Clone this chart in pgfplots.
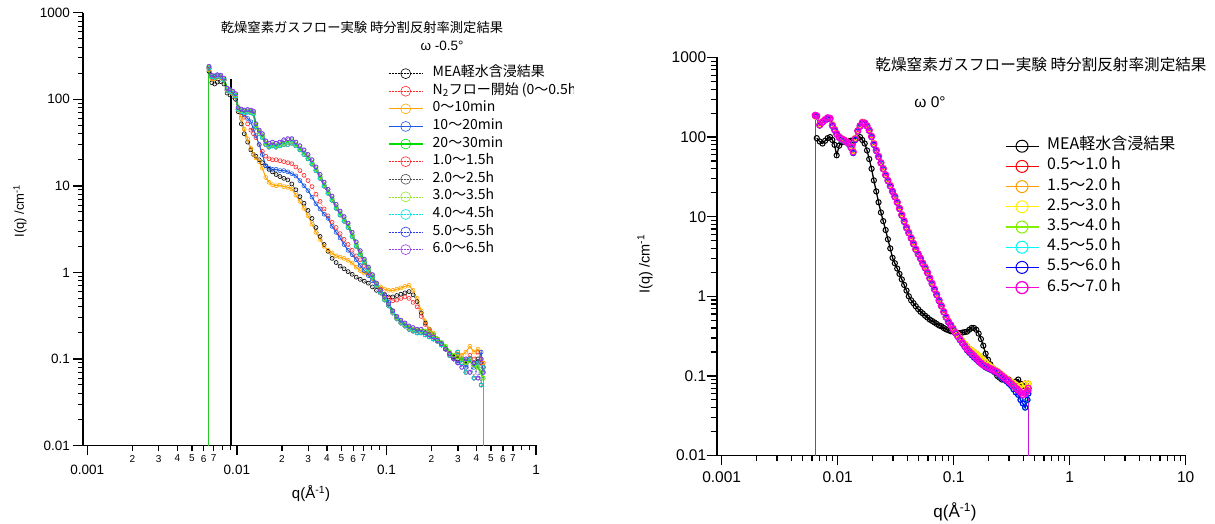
\documentclass[border=0pt]{standalone}
\usepackage{fontspec}
\setmainfont{Liberation Sans}
\newfontfamily\jp{Noto Sans CJK JP}
\usepackage{pgfplots}
\usepackage{pgfplotstable}
\pgfplotsset{compat=1.18}

\definecolor{cRed}{RGB}{255,40,40}
\definecolor{cOrange}{RGB}{255,165,0}
\definecolor{cBlueA}{RGB}{30,90,230}
\definecolor{cGreen}{RGB}{0,220,0}
\definecolor{cYG}{RGB}{150,230,40}
\definecolor{cCyan}{RGB}{0,230,230}
\definecolor{cBlueB}{RGB}{40,60,230}
\definecolor{cPurple}{RGB}{150,60,230}
\definecolor{rRed}{RGB}{255,0,0}
\definecolor{rOrange}{RGB}{255,160,0}
\definecolor{rYellow}{RGB}{255,240,0}
\definecolor{rGreen}{RGB}{130,240,0}
\definecolor{rCyan}{RGB}{0,250,250}
\definecolor{rBlue}{RGB}{0,0,255}
\definecolor{rMag}{RGB}{255,0,220}
\definecolor{rPurp}{RGB}{190,20,220}
\definecolor{vGreen}{RGB}{40,200,40}
\definecolor{vGrey}{RGB}{110,170,110}

\pgfplotstableread{
q T hA hB M O R B
0.00651 235 240 228 210 220 225 232
0.0068 186 190 182 155 172 178 184
0.0071 182 186 178 150 172 176 180
0.0074 188 192 184 158 180 182 186
0.0078 185 190 182 160 178 180 184
0.0082 170 175 166 150 165 166 170
0.0086 130 134 127 118 125 126 130
0.0090 125 129 122 112 120 121 124
0.0094 120 124 117 108 115 116 119
0.0098 112 116 109 100 108 110 112
0.0102 78 80 76 72 75 76 76
0.0107 74 77 72 52 60 70 72
0.0112 72 75 70 40 45 62 66
0.0118 73 76 71 32 35 52 60
0.0124 72 75 70 26 27 44 55
0.0129 70 73 68 23 23 40 45
0.0134 50 52 48 22 21 36 38
0.0141 42 44 40 20 19 30 30
0.0148 38 40 36 18.5 16 25 23
0.0156 31 33 30 17 12.5 22 17
0.0164 29 31 28 15.5 11 20.5 16
0.0173 30 32 29 14.5 10.3 20 15.5
0.0183 29 31 28 13.5 10 20 15.5
0.0194 30 32 29 12.8 10.2 19.5 15
0.0206 31 34 30 12.2 9.8 19 15
0.0219 32 35 30 11.7 9.6 18.5 14.5
0.0233 33 35 31 10.5 9.2 18 13.8
0.0248 30 32 29 9 7.8 16.5 13
0.0264 27 29 26 7.5 6.6 15 11.5
0.0281 24 26 23 6.3 5.5 13.2 10
0.0299 21.5 23 20.5 5.2 4.5 11.5 8.8
0.0318 18.5 20 17.8 4.2 3.6 9.8 7.4
0.0338 15.5 16.5 15 3.3 2.9 8.0 6.2
0.0360 12.7 13.5 12.2 2.6 2.4 6.6 5.4
0.0383 10.3 11 9.9 2.1 2.0 5.4 4.7
0.0407 8.5 9.1 8.2 1.75 1.8 4.5 4.2
0.0433 7.1 7.6 6.8 1.45 1.68 3.8 3.4
0.0461 5.7 6.1 5.5 1.3 1.55 3.3 2.9
0.0490 4.8 5.1 4.6 1.18 1.5 2.8 2.5
0.0521 4.1 4.4 3.9 1.1 1.45 2.4 2.1
0.0554 3.5 3.7 3.3 1.02 1.38 2.1 1.8
0.0590 2.7 2.9 2.6 0.95 1.28 1.8 1.6
0.0628 2.1 2.25 2.0 0.88 1.15 1.55 1.4
0.0668 1.66 1.78 1.6 0.83 1.05 1.4 1.2
0.0711 1.35 1.42 1.3 0.79 0.98 1.2 1.05
0.0757 1.1 1.15 1.05 0.75 0.95 1.0 0.92
0.0806 0.9 0.94 0.87 0.68 0.85 0.85 0.8
0.0858 0.72 0.75 0.7 0.62 0.75 0.72 0.7
0.0913 0.6 0.62 0.58 0.58 0.68 0.64 0.62
0.0972 0.5 0.52 0.48 0.55 0.64 0.56 0.55
0.1035 0.42 0.43 0.41 0.52 0.62 0.5 0.45
0.1102 0.35 0.36 0.34 0.52 0.62 0.47 0.36
0.1173 0.30 0.31 0.29 0.54 0.64 0.48 0.30
0.1249 0.27 0.28 0.26 0.56 0.66 0.5 0.26
0.1330 0.25 0.26 0.24 0.58 0.69 0.52 0.24
0.1416 0.23 0.24 0.22 0.6 0.71 0.5 0.22
0.1507 0.22 0.23 0.21 0.55 0.62 0.45 0.21
0.1604 0.215 0.22 0.2 0.46 0.5 0.4 0.2
0.1708 0.21 0.22 0.2 0.34 0.36 0.31 0.2
0.1818 0.21 0.2 0.19 0.26 0.27 0.25 0.19
0.1935 0.2 0.19 0.18 0.22 0.22 0.21 0.18
0.2060 0.19 0.18 0.17 0.19 0.2 0.19 0.17
0.2193 0.17 0.165 0.16 0.17 0.17 0.165 0.16
0.2334 0.155 0.15 0.145 0.145 0.15 0.145 0.15
0.2485 0.14 0.13 0.13 0.13 0.13 0.13 0.13
0.2645 0.12 0.115 0.11 0.115 0.12 0.115 0.11
0.2816 0.11 0.1 0.1 0.105 0.11 0.1 0.1
0.2998 0.105 0.09 0.12 0.1 0.12 0.11 0.09
0.3191 0.1 0.08 0.09 0.1 0.11 0.1 0.1
0.3397 0.09 0.1 0.07 0.095 0.12 0.09 0.08
0.3616 0.095 0.07 0.1 0.1 0.14 0.11 0.1
0.3849 0.085 0.09 0.06 0.09 0.12 0.1 0.08
0.4097 0.08 0.06 0.09 0.1 0.13 0.12 0.09
0.4300 0.07 0.1 0.05 0.09 0.1 0.09 0.12
0.4436 0.06 0.07 0.08 0.08 0.09 0.09 0.07
}\lefttab

\pgfplotstableread{
q K P Ra Cb
0.00641 nan 188 182 185
0.0066 97 185 180 182
0.0070 88 142 145 140
0.0074 83 155 158 152
0.0078 90 165 168 162
0.0082 97 175 172 170
0.0086 100 172 170 168
0.0090 92 140 145 138
0.0094 80 124 128 122
0.0098 59 110 112 108
0.0103 78 100 102 98
0.0108 86 95 97 93
0.0113 87 92 93 90
0.0118 88 88 90 86
0.0124 89 84 85 82
0.0130 90 75 77 73
0.0136 91 65 67 63
0.0142 94 95 98 92
0.0149 97 120 122 118
0.0156 100 138 140 135
0.0163 92 152 155 150
0.0171 83 150 152 148
0.0179 68 138 140 136
0.0187 53 122 124 120
0.0196 40 102 104 100
0.0205 28.6 82 84 80
0.0215 20.8 68 69 67
0.0225 15.2 57 58 56
0.0236 11.3 47.5 48 47
0.0247 8.8 40 41 39.5
0.0259 6.8 33.5 34 33
0.0271 5.2 28.4 29 28
0.0284 4.0 24.4 25 24
0.0297 3.04 20.8 21 20.5
0.0311 2.6 17.9 18.2 17.6
0.0326 2.23 15.2 15.5 15
0.0341 1.91 12.7 13 12.5
0.0357 1.63 10.5 10.8 10.3
0.0374 1.39 8.8 9 8.6
0.0392 1.18 7.3 7.5 7.2
0.0410 1.0 6.3 6.4 6.2
0.0430 0.89 5.4 5.5 5.3
0.0450 0.82 4.6 4.7 4.5
0.0471 0.75 3.9 4.0 3.85
0.0494 0.69 3.4 3.45 3.35
0.0517 0.64 3.0 3.05 2.95
0.0541 0.61 2.6 2.65 2.55
0.0567 0.57 2.3 2.35 2.25
0.0594 0.54 1.99 2.02 1.96
0.0622 0.51 1.69 1.72 1.66
0.0651 0.49 1.45 1.48 1.42
0.0682 0.47 1.23 1.25 1.21
0.0714 0.45 1.05 1.07 1.03
0.0748 0.43 0.89 0.9 0.87
0.0783 0.42 0.76 0.77 0.75
0.0820 0.40 0.64 0.65 0.63
0.0859 0.385 0.55 0.56 0.54
0.0900 0.375 0.48 0.49 0.47
0.0942 0.365 0.435 0.44 0.43
0.0987 0.36 0.39 0.4 0.385
0.1034 0.35 0.35 0.36 0.345
0.1083 0.345 0.316 0.33 0.31
0.1134 0.345 0.288 0.3 0.28
0.1187 0.35 0.262 0.275 0.255
0.1243 0.355 0.239 0.255 0.232
0.1302 0.36 0.218 0.235 0.21
0.1364 0.38 0.203 0.22 0.195
0.1428 0.40 0.19 0.21 0.182
0.1496 0.40 0.178 0.2 0.17
0.1567 0.38 0.166 0.19 0.16
0.1641 0.34 0.155 0.18 0.15
0.1718 0.29 0.145 0.17 0.142
0.1800 0.24 0.137 0.16 0.135
0.1885 0.19 0.132 0.15 0.128
0.1974 0.16 0.128 0.14 0.124
0.2067 0.14 0.124 0.132 0.12
0.2165 0.12 0.12 0.125 0.116
0.2267 0.11 0.116 0.12 0.112
0.2374 0.10 0.112 0.115 0.108
0.2487 0.095 0.106 0.11 0.1
0.2604 0.09 0.1 0.104 0.095
0.2727 0.09 0.095 0.098 0.09
0.2856 0.085 0.09 0.093 0.086
0.2991 0.09 0.085 0.088 0.08
0.3133 0.085 0.08 0.085 0.075
0.3281 0.08 0.075 0.082 0.068
0.3436 0.085 0.07 0.078 0.062
0.3598 0.09 0.066 0.072 0.058
0.3768 0.08 0.062 0.075 0.05
0.3946 0.075 0.058 0.07 0.045
0.4133 0.08 0.06 0.08 0.04
0.4328 0.07 0.065 0.07 0.05
0.4400 0.065 0.07 0.08 0.06
}\righttab

\begin{document}
\begin{tikzpicture}
\path[use as bounding box] (0,0) rectangle (1215pt,524pt);

% ---------- left chart ----------
\begin{scope}
\clip (0,0) rectangle (573pt,524pt);
\begin{axis}[
  xmode=log, ymode=log, scale only axis,
  at={(83.3pt,78.5pt)}, anchor=south west,
  width=452.7pt, height=432.8pt,
  xmin=0.000940, xmax=1, ymin=0.01, ymax=1000,
  axis x line*=bottom, axis y line*=left,
  axis line style={line width=1.6pt},
  tick align=outside,
  major tick length=10pt, minor tick length=5pt,
  every major tick/.append style={line width=1.4pt, black},
  every minor tick/.append style={line width=1pt, black},
  xtick={0.001,0.01,0.1,1},
  xticklabels={0.001,0.01,0.1,1},
  ytick={0.01,0.1,1,10,100,1000},
  yticklabels={0.01,0.1,1,10,100,1000},
  minor xtick={0.002,0.003,0.004,0.005,0.006,0.007,0.008,0.009,0.02,0.03,0.04,0.05,0.06,0.07,0.08,0.09,0.2,0.3,0.4,0.5,0.6,0.7,0.8,0.9},
  minor ytick={0.02,0.03,0.04,0.05,0.06,0.07,0.08,0.09,0.2,0.3,0.4,0.5,0.6,0.7,0.8,0.9,2,3,4,5,6,7,8,9,20,30,40,50,60,70,80,90,200,300,400,500,600,700,800,900},
  tick label style={font=\fontsize{13.5}{16}\selectfont},
  xticklabel style={yshift=-6pt},
  extra x ticks={0.002,0.003,0.004,0.005,0.006,0.007,0.02,0.03,0.04,0.05,0.06,0.07,0.2,0.3,0.4,0.5,0.6,0.7},
  extra x tick labels={2,3,4,5,6,7,2,3,4,5,6,7,2,3,4,5,6,7},
  extra x tick style={major tick length=6pt,
     tick label style={font=\fontsize{10}{12}\selectfont, yshift=6pt}},
  legend cell align=left,
  legend style={draw=none, fill=none, at={(axis description cs:0.672,0.880)}, anchor=north west,
     font=\jp\fontsize{14}{16}\selectfont, inner sep=0pt, row sep=0pt,
     nodes={inner sep=0pt, text height=11.8pt, text depth=5.8pt},
     /tikz/every odd column/.append style={column sep=9pt}},
  legend image code/.code={\draw[mark repeat=2,mark phase=2,#1] plot coordinates {(0pt,0pt) (17pt,0pt) (34pt,0pt)};},
  legend image post style={mark size=5pt},
  every axis plot/.append style={mark=o, mark size=2pt, line width=0.5pt, mark options={solid, line width=0.6pt}},
]
\addplot[black, densely dotted] table[x=q, y=M] {\lefttab};
\addlegendentry{MEA軽水含浸結果}
\addplot[cRed, densely dotted] table[x=q, y=R] {\lefttab};
\addlegendentry{N\textsubscript{2}フロー開始 (0～0.5h)}
\addplot[cOrange, line width=1pt] table[x=q, y=O] {\lefttab};
\addlegendentry{0～10min}
\addplot[cBlueA, line width=1pt] table[x=q, y=B] {\lefttab};
\addlegendentry{10～20min}
\addplot[cGreen, line width=2pt] table[x=q, y=T] {\lefttab};
\addlegendentry{20～30min}
\addplot[cRed, densely dotted] table[x=q, y=hB] {\lefttab};
\addlegendentry{1.0～1.5h}
\addplot[black!70, densely dotted] table[x=q, y=hB] {\lefttab};
\addlegendentry{2.0～2.5h}
\addplot[cYG, densely dotted] table[x=q, y=T] {\lefttab};
\addlegendentry{3.0～3.5h}
\addplot[cCyan, densely dotted] table[x=q, y=hB] {\lefttab};
\addlegendentry{4.0～4.5h}
\addplot[cBlueB, densely dotted] table[x=q, y=hA] {\lefttab};
\addlegendentry{5.0～5.5h}
\addplot[cPurple, densely dotted] table[x=q, y=hA] {\lefttab};
\addlegendentry{6.0～6.5h}
\addplot[vGreen, line width=1pt, mark=none, forget plot] coordinates {(0.00651,0.001) (0.00651,235)};
\addplot[vGrey, line width=1pt, mark=none, forget plot] coordinates {(0.4436,0.001) (0.4436,0.06)};
\addplot[black, line width=2pt, mark=none, forget plot] coordinates {(0.0091,0.001) (0.0091,170)};
\end{axis}
\end{scope}

% ---------- right chart ----------
\begin{axis}[
  xmode=log, ymode=log, scale only axis,
  at={(716.7pt,68.5pt)}, anchor=south west,
  width=469pt, height=398pt,
  xmin=0.000906, xmax=10, ymin=0.01, ymax=1000,
  axis x line*=bottom, axis y line*=left,
  axis line style={line width=1.6pt},
  tick align=outside,
  major tick length=10pt, minor tick length=6pt,
  every major tick/.append style={line width=1.4pt, black},
  every minor tick/.append style={line width=1.2pt, black},
  xtick={0.001,0.01,0.1,1,10},
  xticklabels={0.001,0.01,0.1,1,10},
  ytick={0.01,0.1,1,10,100,1000},
  yticklabels={0.01,0.1,1,10,100,1000},
  minor xtick={0.002,0.003,0.004,0.005,0.006,0.007,0.008,0.009,0.02,0.03,0.04,0.05,0.06,0.07,0.08,0.09,0.2,0.3,0.4,0.5,0.6,0.7,0.8,0.9,2,3,4,5,6,7,8,9},
  minor ytick={0.02,0.03,0.04,0.05,0.06,0.07,0.08,0.09,0.2,0.3,0.4,0.5,0.6,0.7,0.8,0.9,2,3,4,5,6,7,8,9,20,30,40,50,60,70,80,90,200,300,400,500,600,700,800,900},
  tick label style={font=\fontsize{15.5}{18}\selectfont},
  xticklabel style={yshift=-3pt},
  yticklabel style={xshift=3pt},
  legend cell align=left,
  legend style={draw=none, fill=none, at={(axis description cs:0.614,0.803)}, anchor=north west,
     font=\jp\fontsize{16}{18}\selectfont, inner sep=0pt, row sep=0pt,
     nodes={inner sep=0pt, text height=13.5pt, text depth=6.7pt},
     /tikz/every odd column/.append style={column sep=8pt}},
  legend image code/.code={\draw[mark repeat=2,mark phase=2,#1] plot coordinates {(0pt,0pt) (16.5pt,0pt) (33pt,0pt)};},
  legend image post style={mark size=6pt, line width=1.3pt},
  every axis plot/.append style={mark=o, mark size=2.6pt, line width=1.3pt, mark options={solid, line width=1pt}},
]
\addplot[black] table[x=q, y=K] {\righttab};
\addlegendentry{MEA軽水含浸結果}
\addplot[rRed] table[x=q, y=Ra] {\righttab};
\addlegendentry{0.5～1.0 h}
\addplot[rOrange] table[x=q, y=Ra] {\righttab};
\addlegendentry{1.5～2.0 h}
\addplot[rYellow] table[x=q, y=Ra] {\righttab};
\addlegendentry{2.5～3.0 h}
\addplot[rGreen] table[x=q, y=Cb] {\righttab};
\addlegendentry{3.5～4.0 h}
\addplot[rCyan] table[x=q, y=Cb] {\righttab};
\addlegendentry{4.5～5.0 h}
\addplot[rBlue] table[x=q, y=Cb] {\righttab};
\addlegendentry{5.5～6.0 h}
\addplot[rMag, line width=2.6pt, mark size=3pt, mark options={solid, line width=1.3pt}] table[x=q, y=P] {\righttab};
\addlegendentry{6.5～7.0 h}
\addplot[rPurp, line width=1.3pt, mark=none, forget plot] coordinates {(0.00641,0.001) (0.00641,188)};
\addplot[rPurp, line width=1.3pt, mark=none, forget plot] coordinates {(0.44,0.001) (0.44,0.07)};
\end{axis}

% ---------- titles and labels ----------
\node[font=\jp\fontsize{13.3}{15}\selectfont] at (362pt,497pt) {乾燥窒素ガスフロー実験 時分割反射率測定結果};
\node[font=\fontsize{13.5}{15}\selectfont] at (442pt,478pt) {ω -0.5°};
\node[font=\jp\fontsize{15.6}{18}\selectfont] at (1041pt,459pt) {乾燥窒素ガスフロー実験 時分割反射率測定結果};
\node[font=\fontsize{15.5}{18}\selectfont] at (930pt,422pt) {ω 0°};
\node[rotate=90, font=\fontsize{13}{15}\selectfont] at (20pt,313pt) {I(q) /cm\textsuperscript{-1}};
\node[rotate=90, font=\fontsize{14.5}{17}\selectfont] at (645pt,260pt) {I(q) /cm\textsuperscript{-1}};
\node[font=\fontsize{15}{17}\selectfont] at (311pt,30pt) {q(Å\textsuperscript{-1})};
\node[font=\fontsize{17}{19}\selectfont] at (955pt,12pt) {q(Å\textsuperscript{-1})};
\end{tikzpicture}
\end{document}
